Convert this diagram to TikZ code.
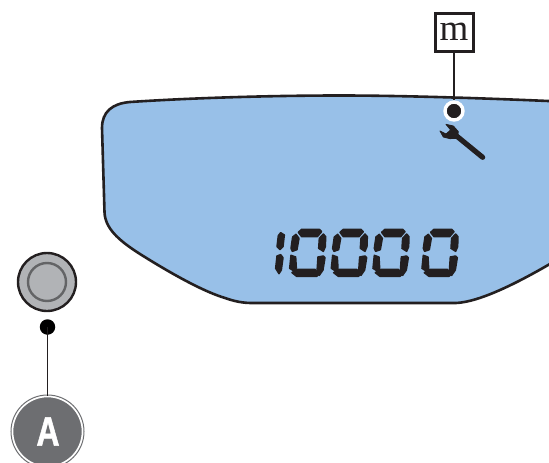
\documentclass[tikz,border=0pt]{standalone}
\usepackage{fontspec}
\newfontfamily\labelsans[FakeBold=1.5]{Liberation Sans Bold}
\newfontfamily\labelserif{Liberation Serif}
\definecolor{lcdblue}{HTML}{98C0E8}
\definecolor{inkdark}{HTML}{231F20}
\definecolor{btngray}{HTML}{B1B3B6}
\definecolor{ringgray}{HTML}{636466}
\definecolor{badgegray}{HTML}{6D6E71}
\tikzset{
  lcd/.style={draw=inkdark,line width=2.6pt,fill=lcdblue},
  segm/.style={fill=inkdark,draw=inkdark,line width=1.5pt,line join=round},
  leader/.style={draw=inkdark,line width=1.4pt},
  labelbox/.style={draw=inkdark,line width=3pt,fill=white,minimum size=38pt,inner sep=0pt,font=\labelserif\fontsize{37}{37}\selectfont,text=inkdark},
  pics/zerodigit/.style={code={
    \path[segm] (115,52)--(125,43)--(178,43)--(185,50)--(172,65)--(125,65)--cycle;
    \path[segm] (108,58)--(117,70)--(111,104)--(97,109)--(93,100)--(98,66)--cycle;
    \path[segm] (178,70)--(190,57)--(197,65)--(196,95)--(190,109)--(176,100)--cycle;
    \path[segm] (93,121)--(107,126)--(109,159)--(100,167)--(89,160)--cycle;
    \path[segm] (174,126)--(190,123)--(195,128)--(189,165)--(178,181)--(171,170)--cycle;
    \path[segm] (96,173)--(110,163)--(165,163)--(177,178)--(170,184)--(110,184)--cycle;
  }}
}
\begin{document}
\begin{tikzpicture}[x=1pt,y=-1pt]
\useasboundingbox (0,0) rectangle (549,463);
\begin{scope}
\clip (0,0) rectangle (549,463);
\draw[lcd] (560,101.5) .. controls (480,98) and (400,95.5) .. (340,95.5)
  .. controls (270,95.5) and (190,98) .. (130,102)
  .. controls (112,103.5) and (102,112) .. (102,128)
  -- (104.5,212) .. controls (105,228) and (118,240) .. (140,254)
  .. controls (175,276) and (205,292) .. (225,298)
  .. controls (235,301.5) and (243,303) .. (252,303)
  -- (456,303) .. controls (480,302) and (520,282) .. (560,258) -- cycle;
\end{scope}
% segment display
\begin{scope}[shift={(260,215)},x=0.3333pt,y=-0.3333pt]
  \path[segm] (62,53)--(73,60)--(69,95)--(60,104)--(51,95)--(55,62)--cycle;
  \path[segm] (51,123)--(62,119)--(69,128)--(64,165)--(57,176)--(47,160)--cycle;
  \pic at (0,0) {zerodigit};
  \pic at (125,0) {zerodigit};
  \pic at (250,0) {zerodigit};
  \pic at (397,0) {zerodigit};
\end{scope}
% wrench
\begin{scope}[shift={(400,0)},x=0.3333pt,y=-0.3333pt]
  \draw[inkdark,line width=5.2pt,line cap=round] (160,400) -- (248,472);
  \fill[inkdark,draw=inkdark,line width=0.8pt,line join=round] (138,373) -- (160,378) -- (175,395) -- (172,415) -- (150,416) -- (130,411) -- (120,393) -- (138,402) -- (152,390) -- cycle;
\end{scope}
% callout m
\node[labelbox] (mlabel) at (454,32) {m};
\node[circle,fill=inkdark,draw=white,line width=3.4pt,minimum size=18pt,inner sep=0pt] (mdot) at (454,111) {};
\draw[leader] (mlabel.south) -- (mdot.north);
% button
\node[circle,fill=btngray,draw=inkdark,line width=2.4pt,minimum size=58pt,inner sep=0pt] (button) at (47,282) {};
\node[circle,draw=ringgray,line width=2.4pt,minimum size=38pt,inner sep=0pt] (buttonring) at (47,282) {};
% callout A
\node[circle,fill=black,minimum size=15.5pt,inner sep=0pt] (adot) at (47.5,327) {};
\node[circle,fill=badgegray,draw=white,line width=1.6pt,minimum size=70pt,inner sep=0pt] (abadge) at (47.5,431.5) {};
\draw[badgegray,line width=1pt] (abadge) circle[radius=36.5pt];
\node[text=white,font=\labelsans\fontsize{41}{41}\selectfont,xscale=0.78,inner sep=0pt] (atext) at (48,431.5) {A};
\draw[leader] (adot.center) -- (abadge.north);
\end{tikzpicture}
\end{document}
